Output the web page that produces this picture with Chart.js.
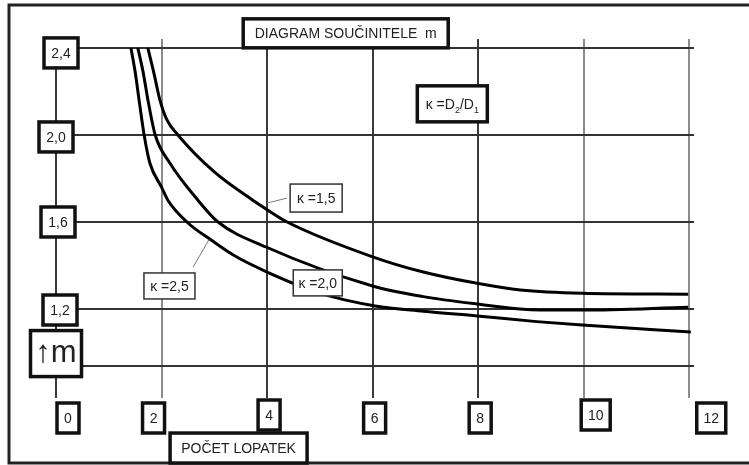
<!DOCTYPE html>
<html>
<head>
<meta charset="utf-8">
<script src="https://cdn.jsdelivr.net/npm/chart.js@4.4.1/dist/chart.umd.min.js"></script>
<style>
  html, body { margin: 0; padding: 0; background: #fff; }
  #wrap { width: 749px; height: 465px; }
</style>
</head>
<body>
<div id="wrap"><canvas id="diagram" width="749" height="465"></canvas></div>
<script>
// tick values and their labels
var xTickValues = [0, 2, 4, 6, 8, 10, 12];
var xTickLabels = ['0', '2', '4', '6', '8', '10', '12'];
var yTickValues = [0.94, 1.2, 1.6, 2.0, 2.4];
var yTickLabels = ['↑m', '1,2', '1,6', '2,0', '2,4'];

// curve kappa = 1,5
var k15X = [1.74, 1.85, 1.97, 2.10, 2.31, 3.0, 3.73, 3.98, 4.38, 6.0, 6.96, 7.98, 8.8, 9.97, 11.98];
var k15Y = [2.40, 2.29, 2.16, 2.07, 2.00, 1.83, 1.70, 1.66, 1.60, 1.44, 1.37, 1.318, 1.287, 1.272, 1.268];
// curve kappa = 2,0
var k20X = [1.55, 1.65, 1.75, 1.88, 2.16, 2.69, 3.07, 3.98, 6.0, 6.96, 7.98, 9.0, 9.97, 11.98];
var k20Y = [2.40, 2.29, 2.15, 2.00, 1.87, 1.70, 1.60, 1.485, 1.306, 1.257, 1.223, 1.197, 1.195, 1.208];
// curve kappa = 2,5
var k25X = [1.42, 1.50, 1.58, 1.67, 1.78, 2.00, 2.12, 2.48, 2.94, 3.36, 4.0, 5.0, 6.05, 6.96, 7.98, 9.11, 9.97, 12.03];
var k25Y = [2.40, 2.29, 2.15, 2.00, 1.87, 1.76, 1.70, 1.60, 1.517, 1.448, 1.37, 1.273, 1.214, 1.19, 1.168, 1.142, 1.126, 1.094];

// layout of the boxed labels (pixel offsets / sizes, data coords for notes)
var xBoxDx = [12, -8, 2, 2, 2, 12, 22];
var xBoxDy = [20, 20, 17, 20, 20, 17, 20];
var yBoxDx = [0, 4, 2, 0, 5];
var yBoxDy = [-12, 1, 0, 2, 5];

var notes = [
  { text: 'DIAGRAM SOUČINITELE  m', x: 5.49, y: 2.467, w: 205, h: 29, thick: true },
  { text: 'POČET LOPATEK', x: 3.46, y: 0.561, w: 137, h: 30, thick: true },
  { text: 'κ =1,5', x: 4.93, y: 1.71, w: 52, h: 28, thick: false },
  { text: 'κ =2,5', x: 2.15, y: 1.306, w: 51, h: 26, thick: false },
  { text: 'κ =2,0', x: 4.96, y: 1.32, w: 49, h: 26, thick: false }
];
var leaders = [
  [4.38, 1.71, 4.0, 1.687],
  [2.60, 1.393, 2.90, 1.52]
];

function pts(xs, ys) {
  var out = [];
  for (var i = 0; i < xs.length; i++) out.push({ x: xs[i], y: ys[i] });
  return out;
}

var FONT = '"Liberation Sans", Arial, sans-serif';

function box(ctx, cx, cy, w, h, thick) {
  ctx.save();
  ctx.fillStyle = '#fff';
  ctx.fillRect(cx - w / 2, cy - h / 2, w, h);
  ctx.strokeStyle = thick ? '#111' : '#333';
  ctx.lineWidth = thick ? 3.5 : 1.5;
  ctx.strokeRect(cx - w / 2, cy - h / 2, w, h);
  ctx.restore();
}

function text(ctx, s, cx, cy, size) {
  ctx.save();
  ctx.fillStyle = '#222';
  ctx.font = size + 'px ' + FONT;
  ctx.textAlign = 'center';
  ctx.textBaseline = 'middle';
  ctx.fillText(s, cx, cy + 1);
  ctx.restore();
}

var boxesPlugin = {
  id: 'boxes',
  afterDraw: function (chart) {
    var ctx = chart.ctx;
    var xs = chart.scales.x, ys = chart.scales.y;

    // outer frame
    ctx.save();
    ctx.strokeStyle = '#222';
    ctx.lineWidth = 3;
    ctx.beginPath();
    ctx.moveTo(749, 5); ctx.lineTo(9, 5); ctx.lineTo(9, 463); ctx.lineTo(749, 463);
    ctx.stroke();
    ctx.restore();

    // leader lines
    ctx.save();
    ctx.strokeStyle = '#777';
    ctx.lineWidth = 1;
    leaders.forEach(function (l) {
      ctx.beginPath();
      ctx.moveTo(xs.getPixelForValue(l[0]), ys.getPixelForValue(l[1]));
      ctx.lineTo(xs.getPixelForValue(l[2]), ys.getPixelForValue(l[3]));
      ctx.stroke();
    });
    ctx.restore();

    // x tick boxes
    xTickValues.forEach(function (v, i) {
      var cx = xs.getPixelForValue(v) + xBoxDx[i];
      var cy = chart.chartArea.bottom + xBoxDy[i];
      var w = xTickLabels[i].length > 1 ? 29 : 22;
      box(ctx, cx, cy, w, 30, true);
      text(ctx, xTickLabels[i], cx, cy, 14);
    });

    // y tick boxes
    yTickValues.forEach(function (v, i) {
      var cx = chart.chartArea.left + yBoxDx[i];
      var cy = ys.getPixelForValue(v) + yBoxDy[i];
      if (yTickLabels[i] === '↑m') {
        box(ctx, cx, cy, 51, 46, true);
        text(ctx, yTickLabels[i], cx, cy - 1, 31);
      } else {
        box(ctx, cx, cy, 34, 30, true);
        text(ctx, yTickLabels[i], cx, cy, 14);
      }
    });

    // notes
    notes.forEach(function (n) {
      var cx = xs.getPixelForValue(n.x), cy = ys.getPixelForValue(n.y);
      box(ctx, cx, cy, n.w, n.h, n.thick);
      text(ctx, n.text, cx, cy, 14);
    });

    // kappa = D2/D1 box with subscripts
    var kx = xs.getPixelForValue(7.51), ky = ys.getPixelForValue(2.143);
    box(ctx, kx, ky, 70, 36, true);
    ctx.save();
    ctx.fillStyle = '#222';
    ctx.textBaseline = 'alphabetic';
    ctx.textAlign = 'left';
    var parts = [['κ =D', 14, 0], ['2', 9, 4], ['/D', 14, 0], ['1', 9, 4]];
    var total = 0;
    parts.forEach(function (p) { ctx.font = p[1] + 'px ' + FONT; total += ctx.measureText(p[0]).width; });
    var px = kx - total / 2;
    parts.forEach(function (p) {
      ctx.font = p[1] + 'px ' + FONT;
      ctx.fillText(p[0], px, ky + 5 + p[2]);
      px += ctx.measureText(p[0]).width;
    });
    ctx.restore();
  }
};

function curve(label, xs, ys) {
  return {
    label: label,
    data: pts(xs, ys),
    borderColor: '#000',
    borderWidth: 3,
    pointRadius: 0,
    fill: false,
    cubicInterpolationMode: 'monotone'
  };
}

var ctx = document.getElementById('diagram').getContext('2d');
var chart = new Chart(ctx, {
  type: 'line',
  data: {
    datasets: [
      curve('κ =1,5', k15X, k15Y),
      curve('κ =2,0', k20X, k20Y),
      curve('κ =2,5', k25X, k25Y)
    ]
  },
  options: {
    responsive: false,
    animation: false,
    layout: { padding: { left: 56, right: 55, top: 39, bottom: 67 } },
    plugins: { legend: { display: false }, tooltip: { enabled: false } },
    scales: {
      x: {
        type: 'linear',
        min: 0,
        max: 12.09,
        afterBuildTicks: function (scale) {
          scale.ticks = xTickValues.map(function (v) { return { value: v }; });
        },
        ticks: { display: false },
        border: { display: false },
        grid: {
          drawTicks: false,
          lineWidth: 2,
          color: function (c) {
            var v = c.tick ? c.tick.value : 0;
            return (v === 2 || v === 10 || v === 12) ? '#8c8c8c' : '#3a3a3a';
          }
        }
      },
      y: {
        type: 'linear',
        min: 0.791,
        max: 2.441,
        afterBuildTicks: function (scale) {
          scale.ticks = yTickValues.map(function (v) { return { value: v }; });
        },
        ticks: { display: false },
        border: { display: false },
        grid: { drawTicks: false, lineWidth: 2, color: '#333' }
      }
    }
  },
  plugins: [boxesPlugin]
});
</script>
</body>
</html>
